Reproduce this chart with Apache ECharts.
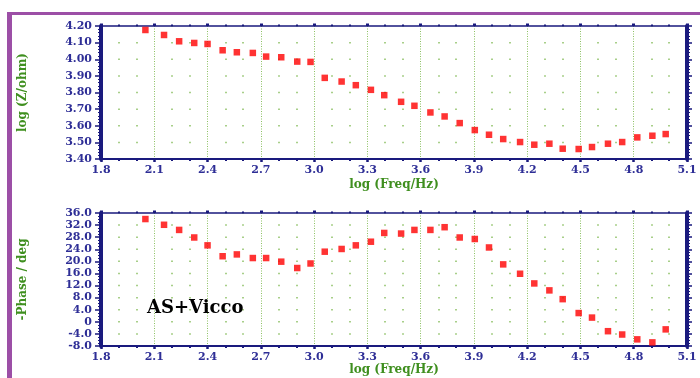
<!DOCTYPE html>
<html>
<head>
<meta charset="utf-8">
<script src="https://cdn.jsdelivr.net/npm/echarts@6/dist/echarts.min.js"></script>
<style>
  html, body { margin: 0; padding: 0; background: #fff; }
  #chart { width: 700px; height: 378px; }
</style>
</head>
<body>
<div id="chart"></div>
<script>
// Impedance spectrum: log|Z| and -phase against log frequency
const logFreq = [2.05, 2.155, 2.24, 2.325, 2.40, 2.485, 2.565, 2.655, 2.73, 2.815, 2.905, 2.98,
  3.06, 3.155, 3.235, 3.32, 3.395, 3.49, 3.565, 3.655, 3.735, 3.82, 3.905, 3.985,
  4.065, 4.16, 4.24, 4.325, 4.40, 4.49, 4.565, 4.655, 4.735, 4.82, 4.905, 4.98];
const logZ = [4.176, 4.146, 4.108, 4.098, 4.092, 4.054, 4.042, 4.038, 4.016, 4.012, 3.986, 3.984,
  3.888, 3.866, 3.844, 3.816, 3.784, 3.744, 3.720, 3.680, 3.656, 3.616, 3.574, 3.546,
  3.520, 3.502, 3.486, 3.492, 3.462, 3.460, 3.472, 3.492, 3.502, 3.530, 3.540, 3.550];
const phase = [34.0, 32.1, 30.4, 27.9, 25.3, 21.7, 22.3, 21.1, 21.1, 19.9, 17.8, 19.3,
  23.2, 24.1, 25.3, 26.5, 29.4, 29.2, 30.4, 30.4, 31.3, 27.9, 27.4, 24.6,
  19.0, 15.9, 12.7, 10.4, 7.5, 2.9, 1.4, -3.1, -4.2, -5.8, -6.8, -2.5];

const xRange = { min: 1.8, max: 5.1, interval: 0.3 };
const zRange = { min: 3.4, max: 4.2, interval: 0.1 };
const phaseRange = { min: -8, max: 36, interval: 4 };
const sampleLabel = 'AS+Vicco';
const freqTitle = 'log (Freq/Hz)';
const zTitle = 'log (Z/ohm)';
const phaseTitle = '-Phase / deg';

const NAVY = '#1a1a7e';
const LABEL = '#2e2e96';
const GREEN = '#3f8f1f';
const GRIDGREEN = '#8cc063';
const SERIF = '"DejaVu Serif", serif';

const plotH = 133;
const tops = [26, 213];

function bottomX(gridIndex, yStepPx) {
  return {
    type: 'value', gridIndex, position: 'bottom',
    min: xRange.min, max: xRange.max, interval: xRange.interval,
    name: freqTitle, nameLocation: 'middle', nameGap: gridIndex === 0 ? 20 : 18,
    nameTextStyle: { color: GREEN, fontFamily: SERIF, fontWeight: 'bold', fontSize: 12 },
    axisLine: { show: true, onZero: false, lineStyle: { color: NAVY, width: 2 } },
    axisTick: { show: true, length: 3, lineStyle: { color: NAVY, width: 2.5 } },
    minorTick: { show: true, splitNumber: 3, length: 2, lineStyle: { color: NAVY, width: 2 } },
    axisLabel: {
      color: LABEL, fontFamily: SERIF, fontWeight: 'bold', fontSize: 11, margin: 6,
      formatter: v => v.toFixed(1)
    },
    splitLine: { show: true, lineStyle: { color: GRIDGREEN, width: 1, type: [1, 1.5] } },
    minorSplitLine: {
      show: true,
      lineStyle: { color: GRIDGREEN, width: 1.5, type: [1.5, yStepPx - 1.5], dashOffset: 0.75 }
    }
  };
}

function topX(gridIndex) {
  return {
    type: 'value', gridIndex, position: 'top',
    min: xRange.min, max: xRange.max, interval: xRange.interval,
    axisLine: { show: true, onZero: false, lineStyle: { color: NAVY, width: 1.5 } },
    axisTick: { show: true, length: 2.5, lineStyle: { color: NAVY, width: 3 } },
    minorTick: { show: true, splitNumber: 3, length: 1.5, lineStyle: { color: NAVY, width: 2 } },
    axisLabel: { show: false },
    splitLine: { show: false }
  };
}

function sideY(gridIndex, range, position, opts) {
  const left = position === 'left';
  return Object.assign({
    type: 'value', gridIndex, position,
    min: range.min, max: range.max, interval: range.interval,
    axisLine: { show: true, onZero: false, lineStyle: { color: NAVY, width: 4 } },
    axisTick: { show: true, length: left ? 6 : 5, lineStyle: { color: NAVY, width: 1.5 } },
    minorTick: { show: true, splitNumber: opts.minorSplit, length: 3, lineStyle: { color: NAVY, width: 1 } },
    axisLabel: left ? {
      color: LABEL, fontFamily: SERIF, fontWeight: 'bold', fontSize: 11, margin: 9,
      formatter: opts.formatter
    } : { show: false },
    splitLine: { show: false }
  }, left ? {
    name: opts.title, nameLocation: 'middle', nameGap: 72, nameRotate: 90,
    nameTextStyle: { color: GREEN, fontFamily: SERIF, fontWeight: 'bold', fontSize: 12 }
  } : {});
}

const zStepPx = plotH / ((zRange.max - zRange.min) / zRange.interval);
const phaseStepPx = plotH / ((phaseRange.max - phaseRange.min) / phaseRange.interval);

const zFmt = v => v.toFixed(2);
const phaseFmt = v => (v === 0 ? '0' : v.toFixed(1));

const chart = echarts.init(document.getElementById('chart'), null, { renderer: 'canvas' });
chart.setOption({
  backgroundColor: '#ffffff',
  animation: false,
  grid: [
    { left: 101, right: 13, top: tops[0], height: plotH },
    { left: 101, right: 13, top: tops[1], height: plotH }
  ],
  xAxis: [bottomX(0, zStepPx), topX(0), bottomX(1, phaseStepPx), topX(1)],
  yAxis: [
    sideY(0, zRange, 'left', { minorSplit: 5, formatter: zFmt, title: zTitle }),
    sideY(0, zRange, 'right', { minorSplit: 5 }),
    sideY(1, phaseRange, 'left', { minorSplit: 4, formatter: phaseFmt, title: phaseTitle }),
    sideY(1, phaseRange, 'right', { minorSplit: 4 })
  ],
  graphic: [
    // purple page frame along the top and left
    { type: 'rect', shape: { x: 7, y: 12, width: 693, height: 3 }, style: { fill: '#9c4fa6' }, silent: true },
    { type: 'rect', shape: { x: 7, y: 12, width: 5, height: 366 }, style: { fill: '#9c4fa6' }, silent: true },
    {
      type: 'text', left: 147, top: 299, silent: true, z: 10,
      style: { text: sampleLabel, fill: '#000', font: 'bold 18px "DejaVu Serif", serif' }
    }
  ],
  series: [
    {
      type: 'scatter', xAxisIndex: 0, yAxisIndex: 0,
      symbol: 'rect', symbolSize: 6.5,
      itemStyle: { color: '#ff0000' },
      data: logFreq.map((f, i) => [f, logZ[i]])
    },
    {
      type: 'scatter', xAxisIndex: 2, yAxisIndex: 2,
      symbol: 'rect', symbolSize: 6.5,
      itemStyle: { color: '#ff0000' },
      data: logFreq.map((f, i) => [f, phase[i]])
    }
  ]
});
</script>
</body>
</html>
